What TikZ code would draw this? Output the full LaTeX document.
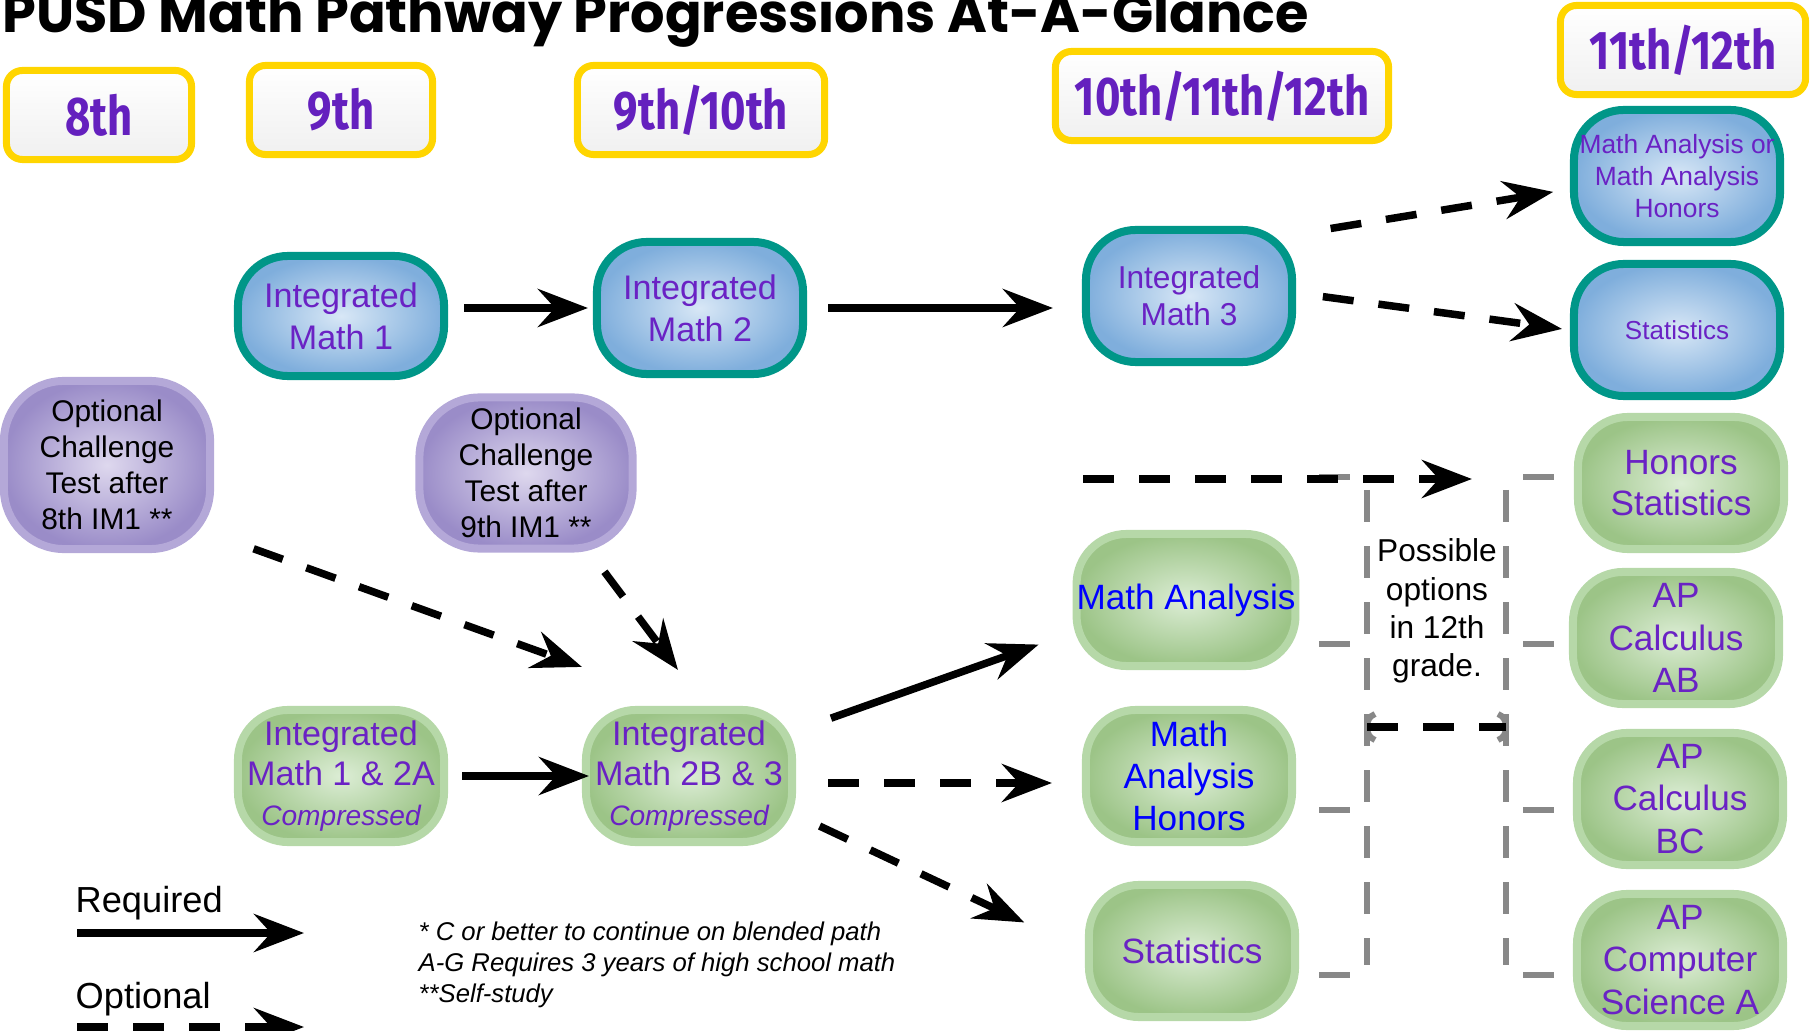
\documentclass[tikz,border=0pt]{standalone}
\usepackage{fontspec}
\setmainfont{Liberation Sans}
\newfontfamily\titlefont{Poppins}
\newfontfamily\gradefont[FakeStretch=0.8]{Fira Sans}
\usetikzlibrary{arrows.meta}
\definecolor{GoldLine}{HTML}{FFD500}
\definecolor{GradePurple}{HTML}{6420BE}
\definecolor{NodePurple}{HTML}{6A22C4}
\definecolor{TealLine}{HTML}{009688}
\definecolor{BlueIn}{HTML}{D8E7F6}
\definecolor{BlueOut}{HTML}{7FAEDC}
\definecolor{GreenLine}{HTML}{B6D8A8}
\definecolor{GreenIn}{HTML}{DCEDD5}
\definecolor{GreenOut}{HTML}{9CC487}
\definecolor{LilacLine}{HTML}{B4A8D8}
\definecolor{LilacIn}{HTML}{DED8EE}
\definecolor{LilacOut}{HTML}{9A8CC8}
\definecolor{BracketGray}{HTML}{888888}
\definecolor{PlainBlue}{HTML}{0000FF}

\begin{document}
\begin{tikzpicture}[
  x=0.01cm, y=-0.01cm,
  grade/.style={draw=GoldLine, line width=0.07cm, rounded corners=0.16cm, top color=white, bottom color=black!6, minimum height=0.89cm, inner sep=0pt, text=GradePurple, font=\gradefont\bfseries\fontsize{15.5}{18}\selectfont},
  course/.style={line width=0.08cm, rounded corners=0.5cm, minimum width=2.06cm, minimum height=1.32cm, inner sep=0pt, align=center, text=NodePurple, font=\fontsize{9.7}{12}\selectfont},
  core/.style={course, draw=TealLine, inner color=BlueIn, outer color=BlueOut},
  blend/.style={course, draw=GreenLine, inner color=GreenIn, outer color=GreenOut},
  test/.style={course, draw=LilacLine, inner color=LilacIn, outer color=LilacOut, rounded corners=0.6cm, text=black, font=\fontsize{8.5}{10.2}\selectfont},
  must/.style={-{Stealth[length=0.5cm, width=0.38cm, inset=0.17cm]}, line width=0.075cm},
  may/.style={must, dash pattern=on 0.31cm off 0.25cm},
  bracket/.style={draw=BracketGray, line width=0.06cm}
]
\useasboundingbox (0,0) rectangle (1810,1031);

\node[anchor=base west, inner sep=0pt, font=\titlefont\bfseries\fontsize{15.4}{18}\selectfont] (title) at (2,33) {PUSD Math Pathway Progressions At-A-Glance};

\node[grade, minimum width=1.85cm] (g8) at (99,115) {8th};
\node[grade, minimum width=1.83cm] (g9) at (341,110) {9th};
\node[grade, minimum width=2.47cm] (g910) at (701,110) {9th/10th};
\node[grade, minimum width=3.33cm] (g1012) at (1222,96) {10th/11th/12th};
\node[grade, minimum width=2.45cm] (g1112) at (1683,50) {11th/12th};

\node[core, minimum height=1.20cm] (im1) at (341,316) {Integrated\\Math 1};
\node[core] (im2) at (700,308) {Integrated\\Math 2};
\node[core, font=\fontsize{9}{10.6}\selectfont] (im3) at (1189,296) {Integrated\\Math 3};
\node[core, font=\fontsize{7.5}{9}\selectfont] (mab) at (1677,176) {Math Analysis or\\Math Analysis\\Honors};
\node[core, font=\fontsize{7.4}{9}\selectfont] (stb) at (1677,330) {Statistics};

\node[test, minimum height=1.68cm] (opt8) at (107,465) {Optional\\Challenge\\Test after\\8th IM1 **};
\node[test, minimum width=2.13cm, minimum height=1.51cm] (opt9) at (526,473) {Optional\\Challenge\\Test after\\9th IM1 **};

\node[blend, font=\fontsize{9.7}{11.4}\selectfont] (im1c) at (341,776) {Integrated\\Math 1 \& 2A\\{\fontsize{8}{9.6}\selectfont\itshape Compressed}};
\node[blend, font=\fontsize{9.7}{11.4}\selectfont] (im2b) at (689,776) {Integrated\\Math 2B \& 3\\{\fontsize{8}{9.6}\selectfont\itshape Compressed}};
\node[blend, text=PlainBlue, font=\fontsize{10}{12}\selectfont] (man) at (1186,600) {Math Analysis};
\node[blend, text=PlainBlue, font=\fontsize{10}{12}\selectfont] (mah) at (1189,776) {Math\\Analysis\\Honors};
\node[blend, font=\fontsize{10}{12}\selectfont] (stg) at (1192,951) {Statistics};
\node[blend, font=\fontsize{10}{11.8}\selectfont] (hst) at (1681,483) {Honors\\Statistics};
\node[blend, font=\fontsize{10}{12}\selectfont] (ab) at (1676,638) {AP\\Calculus\\AB};
\node[blend, font=\fontsize{10}{12}\selectfont] (bc) at (1680,799) {AP\\Calculus\\BC};
\node[blend, font=\fontsize{10}{12}\selectfont] (csa) at (1680,960) {AP\\Computer\\Science A};

\node[align=center, inner sep=0pt, font=\fontsize{9}{10.9}\selectfont] (poss) at (1437,611) {Possible\\options\\in 12th\\grade.};

\node[anchor=base west, inner sep=0pt, font=\fontsize{10.3}{12}\selectfont] (reqtxt) at (75,912) {Required};
\node[anchor=base west, inner sep=0pt, font=\fontsize{10.3}{12}\selectfont] (opttxt) at (75,1008) {Optional};
\node[anchor=north west, inner sep=0pt, align=left, font=\fontsize{7.3}{8.9}\selectfont\itshape] (note) at (418,921) {* C or better to continue on blended path\\A-G Requires 3 years of high school math\\**Self-study};

\foreach \yy in {477,644,810,975} {
  \draw[bracket] (1319,\yy) -- (1350,\yy);
  \draw[bracket] (1523,\yy) -- (1554,\yy);
}
\draw[bracket, dash pattern=on 0.32cm off 0.24cm] (1367,490) -- (1367,965);
\draw[bracket, dash pattern=on 0.32cm off 0.24cm] (1506,490) -- (1506,965);
\draw[bracket] (1375,714) to[out=200, in=90] (1367,727) to[out=-90, in=160] (1375,740);
\draw[bracket] (1498,714) to[out=-20, in=90] (1506,727) to[out=-90, in=20] (1498,740);

\coordinate (gapl) at (1367,727);
\coordinate (gapr) at (1506,727);
\coordinate (hsfrom) at (1083,479);
\coordinate (reqa) at (77,933);
\coordinate (reqb) at (304,933);
\coordinate (opta) at (77,1027);
\coordinate (optb) at (304,1027);

\draw[line width=0.075cm, dash pattern=on 0.31cm off 0.25cm] (gapl) -- (gapr);
\draw[must, shorten <=0.16cm, shorten >=0.05cm] (im1.east |- im2.west) -- (im2.west);
\draw[must, shorten <=0.21cm, shorten >=0.29cm] (im2.east) -- (im2.east -| im3.west);
\draw[may, shorten <=0.35cm, shorten >=0.17cm] (im3.30) -- (mab.187);
\draw[may, shorten <=0.27cm, shorten >=0.08cm] ([yshift=0.03cm]im3.east) -- (stb.west);
\draw[may, shorten >=1.02cm] (hsfrom) -- (hsfrom -| hst.west);
\draw[may, shorten <=0.42cm] (opt8.-33) -- ([yshift=0.39cm]im2b.north west);
\draw[may, shorten <=0.24cm] ([xshift=0.64cm]opt9.south) -- ([xshift=-0.11cm, yshift=0.36cm]im2b.north);
\draw[must, shorten <=0.14cm, shorten >=-0.07cm] (im1c) -- (im2b);
\draw[must, shorten <=0.37cm, shorten >=0.36cm] (im2b.23) -- (man.196);
\draw[may, shorten <=0.32cm, shorten >=0.30cm] ([yshift=-0.07cm]im2b.east) -- ([yshift=-0.07cm]mah.west);
\draw[may, shorten <=0.26cm, shorten >=0.67cm] (im2b.-20) -- (stg.west);
\draw[must] (reqa) -- (reqb);
\draw[may] (opta) -- (optb);
\end{tikzpicture}
\end{document}
